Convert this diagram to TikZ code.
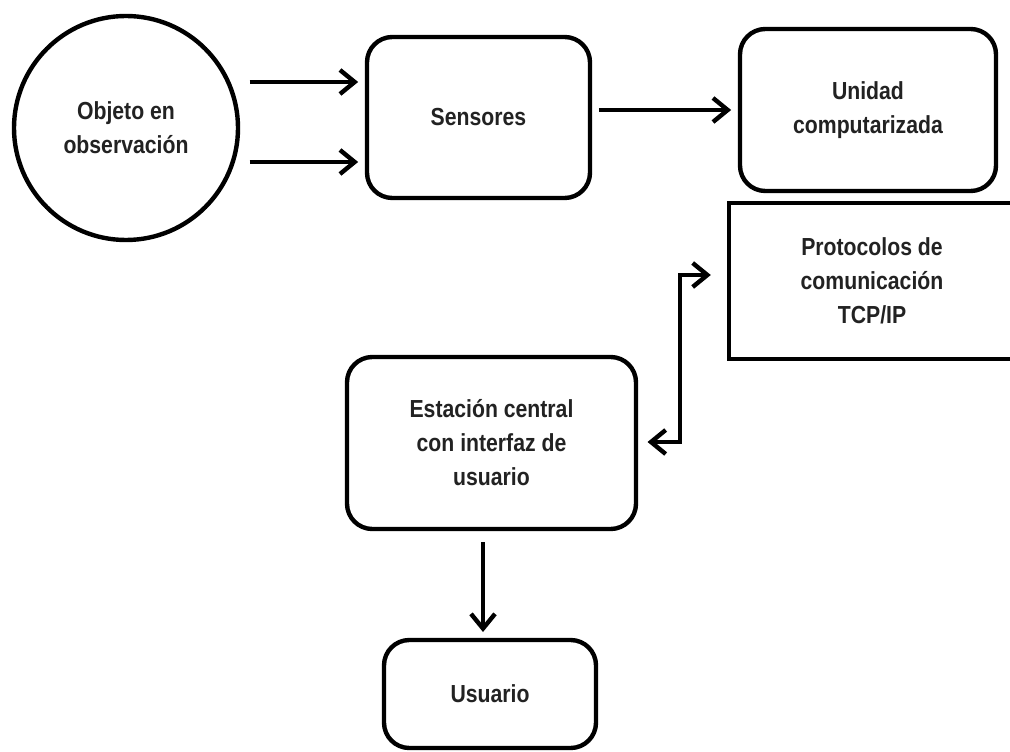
\documentclass[tikz,border=0pt]{standalone}
\usepackage{fontspec}
\setmainfont{Liberation Sans}[FakeStretch=0.86]
\usetikzlibrary{arrows.meta}
\definecolor{txt}{HTML}{222222}
\tikzset{
  every node/.style={font=\fontsize{18.5}{25.5}\selectfont\bfseries, text=txt, align=center},
  rbox/.style={draw=black, line width=3.3pt, rounded corners=19pt, inner sep=0pt},
  sbox/.style={draw=black, line width=3.3pt, inner sep=0pt},
  circ/.style={draw=black, line width=3.3pt, circle, inner sep=0pt},
  arr/.style={line width=3.3pt, -{Straight Barb[length=11pt, width=18pt, line width=3.3pt]}},
  dbl/.style={line width=3.3pt, line join=miter, {Straight Barb[length=11pt, width=18pt, line width=3.3pt]}-{Straight Barb[length=11pt, width=18pt, line width=3.3pt]}}
}
\begin{document}
\begin{tikzpicture}[x=0.75pt, y=-0.75pt]
\useasboundingbox (0,0) rectangle (1010,752);
\clip (0,0) rectangle (1010,752);
\fill[white] (0,0) rectangle (1010,752);

\node[circ, minimum size=168pt] (obj) at (126,128) {Objeto en\\observación};
\node[rbox, minimum width=167.25pt, minimum height=120.75pt] (sens) at (478.5,117.5) {Sensores};
\node[rbox, minimum width=192pt, minimum height=121.5pt] (unid) at (868,110) {Unidad\\computarizada};
\node[sbox, minimum width=223.5pt, minimum height=117pt] (prot) at (878,281) {};
\node (protl) at (872,281) {Protocolos de\\comunicación\\TCP/IP};
\node[rbox, minimum width=216.75pt, minimum height=129pt] (est) at (491.5,443) {Estación central\\con interfaz de\\usuario};
\node[rbox, minimum width=159pt, minimum height=81pt] (usu) at (490,694) {Usuario};

\coordinate (a1) at (0,82);
\coordinate (a2) at (0,162);
\coordinate (a3) at (0,110);
\draw[arr] ([xshift=7]obj.east |- a1) -- ([xshift=-5]sens.west |- a1);
\draw[arr] ([xshift=7]obj.east |- a2) -- ([xshift=-5]sens.west |- a2);
\draw[arr] ([xshift=5]sens.east |- a3) -- ([xshift=-5]unid.west |- a3);

\coordinate (d1) at (680,275);
\coordinate (d2) at (680,442);
\draw[dbl] ([xshift=7]est.east |- d2) -- (d2) -- (d1) -- ([xshift=-12]prot.west |- d1);

\draw[arr] (483,542) -- (483,632);
\end{tikzpicture}
\end{document}
